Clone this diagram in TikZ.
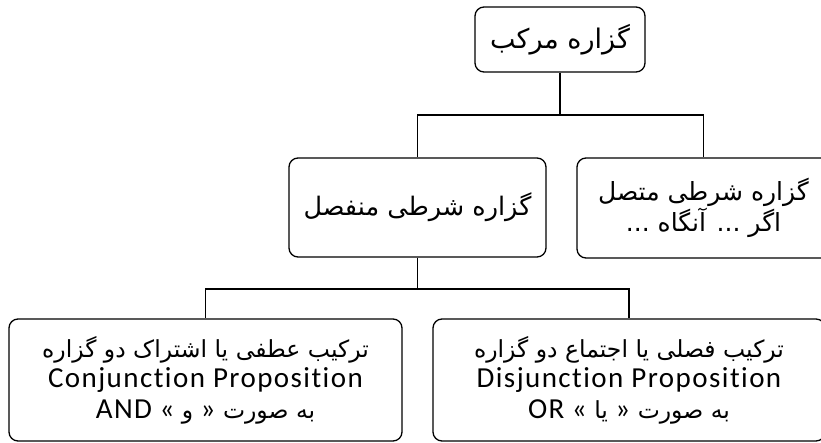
\documentclass[tikz,border=0pt]{standalone}
\usepackage{fontspec}
\usepackage{tikz}
\TeXXeTstate=1
\newfontfamily\arabicfont[Script=Arabic]{DejaVu Sans}
\newfontfamily\latinfont[LetterSpace=5,Ligatures={NoCommon}]{Carlito}
\newcommand\lat[1]{{\latinfont\fontsize{29}{30}\selectfont #1}}

\begin{document}
\begin{tikzpicture}
	[x=1pt,y=-1pt,line width=1.3pt,
	every node/.style={draw,rounded corners=9pt,align=center,inner sep=0pt,line width=1.3pt},
	fa/.style={font=\arabicfont\fontsize{#1}{30.5}\selectfont}]
	\useasboundingbox (0,0) rectangle (821,443);
	\clip (0,0) rectangle (821,443);
	
	\node[fa=27,minimum width=170pt,minimum height=65pt] (n1) at (560,39.5) {\beginR گزاره مرکب\endR};
	\node[fa=25.5,minimum width=257pt,minimum height=99pt] (n2) at (417.5,207.5) {\beginR گزاره شرطی منفصل\endR};
	\node[fa=25,minimum width=253pt,minimum height=100pt] (n3) at (703.5,208) {\beginR گزاره شرطی متصل\endR\\ \beginR اگر ... آنگاه ...\endR};
	\node[fa=23.5,minimum width=393pt,minimum height=122pt] (n4) at (205.5,380)
		{\beginR ترکیب عطفی یا اشتراک دو گزاره\endR\\
		\lat{Conjunction Proposition}\\
		\beginR به صورت \lat{»} و \lat{«} \beginL\lat{AND}\endL\endR};
	\node[fa=23.5,minimum width=392pt,minimum height=122pt] (n5) at (629,380)
		{\beginR ترکیب فصلی یا اجتماع دو گزاره\endR\\
		\lat{Disjunction Proposition}\\
		\beginR به صورت \lat{»} یا \lat{«} \beginL\lat{OR}\endL\endR};
	
	\coordinate (j1) at (560,115);
	\coordinate (j2) at (417.5,289);
	\draw (n1) -- (j1);
	\draw (n2) -- (j2);
	\foreach \from/\to in {j1/n2,j1/n3,j2/n4,j2/n5}
	\draw (\from) -| (\to);
	
\end{tikzpicture}
\end{document}
